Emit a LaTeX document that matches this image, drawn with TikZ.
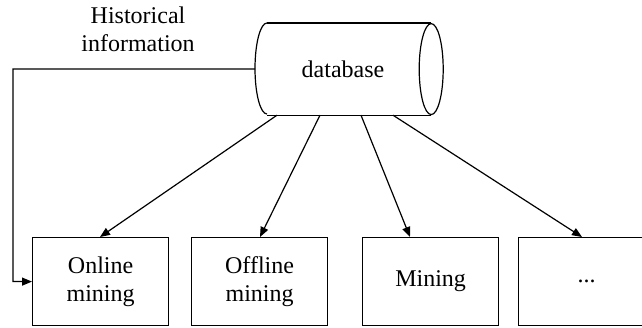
\documentclass[tikz,border=0pt]{standalone}
\usepackage{fontspec}
\setmainfont{Liberation Serif}
\usetikzlibrary{arrows.meta,calc}
\begin{document}
\begin{tikzpicture}[x=1pt,y=-1pt,
  line width=1.2pt,
  every node/.style={font=\fontsize{24}{28}\selectfont, inner sep=0pt},
  box/.style={draw, minimum width=136pt, minimum height=88pt, align=center, anchor=north west},
  conn/.style={-{Triangle[length=10pt,width=8pt]}}]
\clip (0,0) rectangle (642,328);
\useasboundingbox (0,0) rectangle (642,328);
% database cylinder
\node (db) [minimum width=163pt, minimum height=91pt, anchor=north west] at (267,23) {};
\draw (db.north west) -- (db.north east)
      (db.south west) -- (db.south east);
\draw (db.north west) arc[start angle=90, end angle=270, x radius=12pt, y radius=45.5pt];
\draw (db.east) ellipse [x radius=12pt, y radius=45.5pt];
\node (dbtext) at (343,69) {database};
% label
\node (hist) [align=center] at (138,29) {Historical\\information};
% boxes
\node (b1) [box] at (32,237) {Online\\mining};
\node (b2) [box] at (191,237) {Offline\\mining};
\node (b3) [box] at (362,237) {Mining};
\node (b4) [box] at (518,237) {...};
% connectors
\draw[conn] ($(db.south west)+(10,0)$) -- ($(b1.north west)+(68,0)$);
\draw[conn] ($(db.south west)+(53,0)$) -- ($(b2.north west)+(69,0)$);
\draw[conn] ($(db.south west)+(94,0)$) -- ($(b3.north west)+(48,0)$);
\draw[conn] ($(db.south west)+(126,0)$) -- ($(b4.north west)+(64,0)$);
\coordinate (c1) at (13,69);
\draw[conn] ($(db.west)+(-12,0)$) -- (c1) |- (b1.west);
\end{tikzpicture}
\end{document}
